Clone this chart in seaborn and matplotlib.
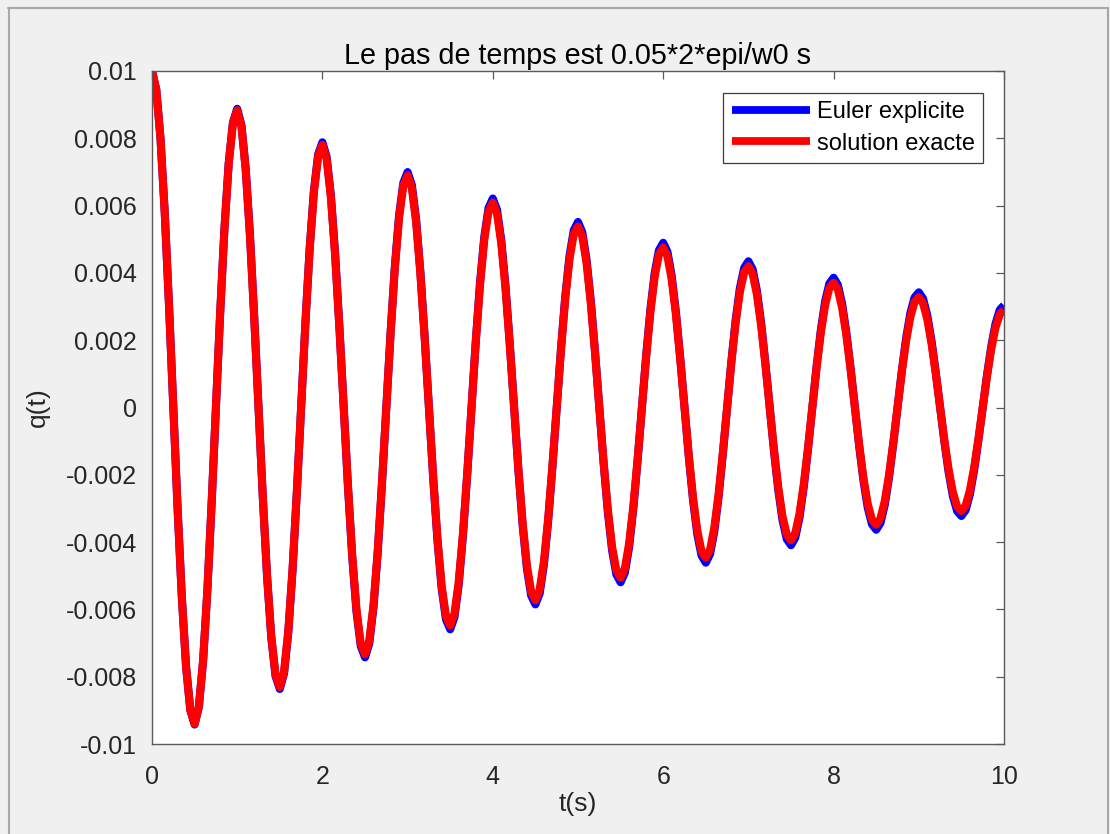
import numpy as np
import pandas as pd
import matplotlib
matplotlib.use("Agg")
import matplotlib.pyplot as plt
from matplotlib.lines import Line2D
import seaborn as sns

# Time step of the simulation (s) and the sampled charge q(t), in units of 1e-4
dt = 0.05

q_exact_e4 = [
    100.00, 94.52, 79.90, 57.70, 30.14, 0.00, -29.77, -56.28, -76.99, -89.94,
    -93.99, -88.84, -75.10, -54.23, -28.33, 0.00, 27.98, 52.90, 72.36, 84.54,
    88.34, 83.50, 70.59, 50.97, 26.63, 0.00, -26.30, -49.72, -68.01, -79.46,
    -83.03, -78.48, -66.34, -47.90, -25.03, 0.00, 24.72, 46.73, 63.92, 74.68,
    78.04, 73.76, 62.36, 45.02, 23.52, 0.00, -23.23, -43.92, -60.08, -70.19,
    -73.35, -69.32, -58.61, -42.32, -22.11, 0.00, 21.84, 41.28, 56.47, 65.97,
    68.94, 65.16, 55.08, 39.77, 20.78, 0.00, -20.52, -38.80, -53.07, -62.00,
    -64.79, -61.24, -51.77, -37.38, -19.53, 0.00, 19.29, 36.47, 49.88, 58.28,
    60.90, 57.56, 48.66, 35.13, 18.36, 0.00, -18.13, -34.27, -46.88, -54.77,
    -57.24, -54.10, -45.73, -33.02, -17.25, 0.00, 17.04, 32.21, 44.06, 51.48,
    53.79, 50.85, 42.98, 31.04, 16.22, 0.00, -16.02, -30.28, -41.41, -48.39,
    -50.56, -47.79, -40.40, -29.17, -15.24, 0.00, 15.05, 28.46, 38.93, 45.48,
    47.52, 44.92, 37.97, 27.42, 14.33, 0.00, -14.15, -26.75, -36.59, -42.74,
    -44.66, -42.22, -35.69, -25.77, -13.46, 0.00, 13.30, 25.14, 34.39, 40.17,
    41.98, 39.68, 33.54, 24.22, 12.65, 0.00, -12.50, -23.63, -32.32, -37.76,
    -39.46, -37.29, -31.53, -22.76, -11.89, 0.00, 11.75, 22.21, 30.38, 35.49,
    37.08, 35.05, 29.63, 21.40, 11.18, 0.00, -11.04, -20.87, -28.55, -33.36,
    -34.85, -32.94, -27.85, -20.11, -10.51, 0.00, 10.38, 19.62, 26.83, 31.35,
    32.76, 30.96, 26.18, 18.90, 9.88, 0.00, -9.75, -18.44, -25.22, -29.46,
    -30.79, -29.10, -24.60, -17.76, -9.28, 0.00, 9.17, 17.33, 23.70, 27.69,
    28.94,
]

q_euler_e4 = [
    100.00, 94.52, 79.90, 57.70, 30.14, 0.00, -29.77, -56.28, -76.99, -89.94,
    -94.22, -89.06, -75.29, -54.36, -28.40, 0.00, 28.05, 53.03, 72.54, 84.75,
    88.78, 83.91, 70.94, 51.22, 26.76, 0.00, -26.43, -49.97, -68.35, -79.85,
    -83.65, -79.06, -66.84, -48.26, -25.22, 0.00, 24.91, 47.08, 64.40, 75.24,
    78.82, 74.50, 62.98, 45.47, 23.76, 0.00, -23.47, -44.36, -60.68, -70.89,
    -74.26, -70.19, -59.34, -42.85, -22.39, 0.00, 22.11, 41.80, 57.17, 66.80,
    69.97, 66.13, 55.91, 40.37, 21.09, 0.00, -20.83, -39.38, -53.87, -62.93,
    -65.93, -62.31, -52.68, -38.04, -19.87, 0.00, 19.63, 37.10, 50.75, 59.30,
    62.11, 58.71, 49.63, 35.84, 18.72, 0.00, -18.49, -34.96, -47.82, -55.87,
    -58.52, -55.31, -46.76, -33.77, -17.64, 0.00, 17.42, 32.94, 45.05, 52.64,
    55.14, 52.12, 44.06, 31.81, 16.62, 0.00, -16.42, -31.03, -42.45, -49.60,
    -51.95, -49.10, -41.51, -29.97, -15.66, 0.00, 15.47, 29.24, 40.00, 46.73,
    48.95, 46.26, 39.11, 28.24, 14.75, 0.00, -14.57, -27.55, -37.68, -44.02,
    -46.12, -43.59, -36.85, -26.61, -13.90, 0.00, 13.73, 25.96, 35.50, 41.48,
    43.45, 41.07, 34.72, 25.07, 13.10, 0.00, -12.94, -24.45, -33.45, -39.08,
    -40.94, -38.69, -32.71, -23.62, -12.34, 0.00, 12.19, 23.04, 31.51, 36.82,
    38.57, 36.45, 30.82, 22.25, 11.63, 0.00, -11.48, -21.71, -29.69, -34.69,
    -36.34, -34.34, -29.03, -20.96, -10.95, 0.00, 10.82, 20.45, 27.97, 32.68,
    34.23, 32.36, 27.35, 19.75, 10.32, 0.00, -10.19, -19.27, -26.35, -30.79,
    -32.25, -30.48, -25.77, -18.61, -9.72, 0.00, 9.60, 18.15, 24.83, 29.01,
    30.39,
]

x_ticks = [0, 2, 4, 6, 8, 10]
y_ticks = [-0.01, -0.008, -0.006, -0.004, -0.002, 0, 0.002, 0.004, 0.006, 0.008, 0.01]
y_tick_labels = ["-0.01", "-0.008", "-0.006", "-0.004", "-0.002", "0",
                 "0.002", "0.004", "0.006", "0.008", "0.01"]

series_names = ["Euler explicite", "solution exacte"]
series_colors = ["#0000FF", "#FF0000"]

t = dt * np.arange(len(q_exact_e4))
df = pd.concat([
    pd.DataFrame({"t": t, "q": np.array(q_euler_e4) * 1e-4, "methode": series_names[0]}),
    pd.DataFrame({"t": t, "q": np.array(q_exact_e4) * 1e-4, "methode": series_names[1]}),
])

sns.set_theme(style="white")
plt.rcParams["font.family"] = ["Liberation Sans", "DejaVu Sans"]
plt.rcParams["axes.unicode_minus"] = False

fig = plt.figure(figsize=(11.10, 8.34), dpi=100, facecolor="#F0F0F0")
ax = fig.add_axes([152 / 1110, 1 - 744 / 834, 852 / 1110, 673 / 834])
ax.set_facecolor("white")

sns.lineplot(data=df, x="t", y="q", hue="methode", palette=series_colors,
             hue_order=series_names, estimator=None, sort=False,
             linewidth=5.8, ax=ax)
for ln in ax.get_lines():
    ln.set_solid_joinstyle("round")
    ln.set_solid_capstyle("butt")

ax.set_xlim(0, 10)
ax.set_ylim(-0.01, 0.01)
ax.set_xticks(x_ticks)
ax.set_xticklabels([str(v) for v in x_ticks])
ax.set_yticks(y_ticks)
ax.set_yticklabels(y_tick_labels)

axis_color = "#262626"
for side in ["left", "right", "top", "bottom"]:
    ax.spines[side].set_visible(True)
    ax.spines[side].set_color("#5A5A5A")
    ax.spines[side].set_linewidth(1.0)
ax.tick_params(axis="both", which="major", direction="in", length=6, width=0.9,
               color="#5A5A5A", top=True, right=True, labelsize=18,
               labelcolor=axis_color)
ax.tick_params(axis="x", pad=15)
ax.tick_params(axis="y", pad=11)

ax.set_title("Le pas de temps est 0.05*2*epi/w0 s", fontsize=20.7, color="black", pad=5)
ax.set_xlabel("t(s)", fontsize=19, color=axis_color, labelpad=2)
ax.set_ylabel("q(t)", fontsize=19, color=axis_color, labelpad=11)

leg = ax.legend(loc="upper right", bbox_to_anchor=((983 - 152) / 852, (744 - 93) / 673),
                borderaxespad=0, fontsize=17, frameon=True, fancybox=False,
                handlelength=3.3, handletextpad=0.3, borderpad=0.35,
                labelspacing=0.4, title=None)
leg.get_frame().set_edgecolor("#3C3C3C")
leg.get_frame().set_linewidth(0.9)
leg.get_frame().set_alpha(1)
for hl in leg.get_lines():
    hl.set_solid_capstyle("butt")
    hl.set_linewidth(5.6)
for txt in leg.get_texts():
    txt.set_color("black")

# window border
border = "#A8A8A8"
fig.add_artist(Line2D([8 / 1110, 1108 / 1110], [1 - 7.5 / 834, 1 - 7.5 / 834],
                      transform=fig.transFigure, color=border, lw=1.5))
fig.add_artist(Line2D([8.5 / 1110, 8.5 / 1110], [0, 1 - 7.5 / 834],
                      transform=fig.transFigure, color=border, lw=1.5))
fig.add_artist(Line2D([1108 / 1110, 1108 / 1110], [0, 1 - 7.5 / 834],
                      transform=fig.transFigure, color=border, lw=1.5))

fig.savefig("out.png", dpi=100, facecolor=fig.get_facecolor())
